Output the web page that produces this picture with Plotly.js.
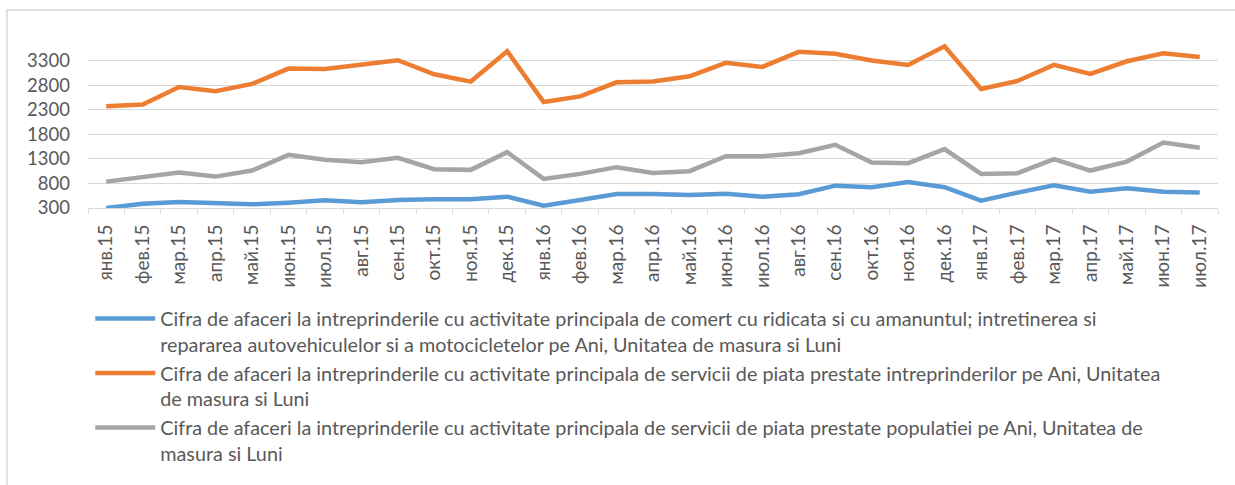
<!DOCTYPE html>
<html>
<head>
<meta charset="utf-8">
<script src="https://cdn.plot.ly/plotly-3.0.1.min.js"></script>
<style>
  body { margin: 0; background: #fff; }
  #chartDiv { width: 1235px; height: 485px; }
</style>
</head>
<body>
<div id="chartDiv"></div>
<script>
// months (categories)
var luni = ['янв.15','фев.15','мар.15','апр.15','май.15','июн.15','июл.15','авг.15','сен.15','окт.15','ноя.15','дек.15',
            'янв.16','фев.16','мар.16','апр.16','май.16','июн.16','июл.16','авг.16','сен.16','окт.16','ноя.16','дек.16',
            'янв.17','фев.17','мар.17','апр.17','май.17','июн.17','июл.17'];

// comert cu ridicata si cu amanuntul
var comert = [300, 388, 422, 408, 375, 408, 456, 415, 463, 477, 477, 531,
              347, 463, 586, 586, 565, 592, 531, 579, 755, 722, 831, 722,
              450, 613, 763, 633, 702, 633, 613];

// servicii prestate intreprinderilor
var serviciiIntr = [2368, 2408, 2763, 2674, 2824, 3137, 3130, 3219, 3307, 3021, 2872, 3490,
                    2457, 2572, 2858, 2872, 2980, 3253, 3171, 3477, 3437, 3300, 3212, 3592,
                    2722, 2885, 3212, 3028, 3286, 3449, 3375];

// servicii prestate populatiei
var serviciiPop = [837, 927, 1021, 939, 1062, 1382, 1280, 1233, 1320, 1090, 1076, 1437,
                   892, 994, 1131, 1014, 1049, 1355, 1355, 1416, 1586, 1225, 1212, 1498,
                   994, 1008, 1293, 1062, 1245, 1633, 1525];

var yTicks = [300, 800, 1300, 1800, 2300, 2800, 3300];

var names = [
  'Cifra de afaceri la intreprinderile cu activitate principala de comert cu ridicata si cu amanuntul; intretinerea si<br>repararea autovehiculelor si a motocicletelor pe Ani, Unitatea de masura si Luni',
  'Cifra de afaceri la intreprinderile cu activitate principala de servicii de piata prestate intreprinderilor pe Ani, Unitatea<br>de masura si Luni',
  'Cifra de afaceri la intreprinderile cu activitate principala de servicii de piata prestate populatiei pe Ani, Unitatea de<br>masura si Luni'
];

var textColor = '#595959';
var gridColor = '#d9d9d9';

function makeTrace(vals, name, color) {
  return {
    x: luni,
    y: vals,
    type: 'scatter',
    mode: 'lines',
    name: name,
    line: { color: color, width: 4.5 }
  };
}

var data = [
  makeTrace(comert, names[0], '#5B9BD5'),
  makeTrace(serviciiIntr, names[1], '#ED7D31'),
  makeTrace(serviciiPop, names[2], '#A5A5A5')
];

var layout = {
  width: 1235,
  height: 485,
  margin: { l: 88, r: 17, t: 36, b: 277 },
  paper_bgcolor: '#fff',
  plot_bgcolor: '#fff',
  font: { family: 'Lato, sans-serif', color: textColor },
  showlegend: true,
  legend: {
    x: 0.002, y: -0.53,
    xanchor: 'left', yanchor: 'top',
    orientation: 'v',
    valign: 'top',
    font: { size: 19.8, color: textColor },
    itemwidth: 60,
    bgcolor: 'rgba(0,0,0,0)'
  },
  xaxis: {
    type: 'category',
    range: [-0.5, luni.length - 0.5],
    tickangle: -90,
    tickson: 'boundaries',
    ticks: 'outside',
    ticklen: 5,
    tickcolor: gridColor,
    showline: true,
    linecolor: gridColor,
    linewidth: 1,
    showgrid: false,
    ticklabelstandoff: 8,
    tickfont: { size: 19, color: textColor },
    fixedrange: true
  },
  yaxis: {
    range: [300, 3800],
    tickvals: yTicks,
    ticktext: yTicks.map(String),
    showgrid: true,
    gridcolor: gridColor,
    gridwidth: 1,
    zeroline: false,
    showline: false,
    ticks: '',
    ticklabelstandoff: 17,
    tickfont: { size: 18.5, color: textColor },
    fixedrange: true
  },
  shapes: [{
    type: 'rect',
    xref: 'paper', yref: 'paper',
    x0: (7 - 88) / 1130, x1: 1.1,
    y0: -1.8, y1: (208 - 10) / 172,
    line: { color: gridColor, width: 1.5 },
    layer: 'below'
  }]
};

Plotly.newPlot('chartDiv', data, layout, { displayModeBar: false, staticPlot: true });
</script>
</body>
</html>
